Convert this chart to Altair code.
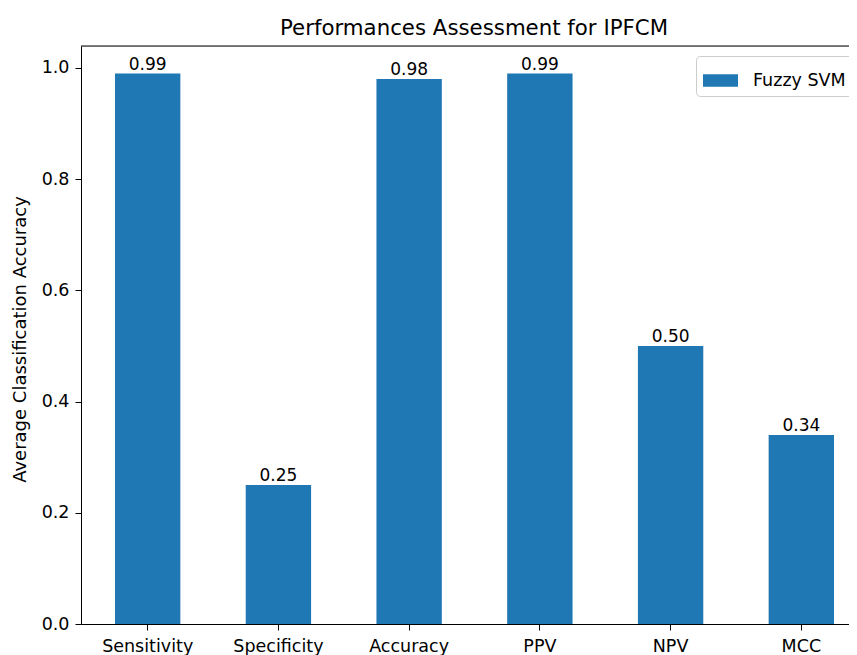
import altair as alt
import pandas as pd

categories = ["Sensitivity", "Specificity", "Accuracy", "PPV", "NPV", "MCC"]
values = [0.99, 0.25, 0.98, 0.99, 0.50, 0.34]
value_labels = ["0.99", "0.25", "0.98", "0.99", "0.50", "0.34"]
series_name = "Fuzzy SVM"
y_ticks = [0.0, 0.2, 0.4, 0.6, 0.8, 1.0]

df = pd.DataFrame({
    "metric": categories,
    "value": values,
    "label": value_labels,
    "series": [series_name] * len(categories),
})

FONT = "DejaVu Sans"
RANGE_W = 787

xscale = alt.Scale(domain=categories, range=[0, RANGE_W], paddingInner=0.5,
                   paddingOuter=0.26, round=False)
yscale = alt.Scale(domain=[0, 1.0395], nice=False, zero=True)

x_enc = alt.X("metric:N", scale=xscale, sort=categories,
              axis=alt.Axis(title=None, labelAngle=0, labelFontSize=17.5, labelFont=FONT,
                            labelColor="black", tickColor="black", domainColor="black",
                            tickSize=6, labelPadding=7, grid=False))
y_enc = alt.Y("value:Q", scale=yscale,
              axis=alt.Axis(title="Average Classification Accuracy", values=y_ticks, format=".1f",
                            labelFontSize=17.5, labelFont=FONT, labelColor="black",
                            tickColor="black", domainColor="black", tickSize=6, labelPadding=6,
                            grid=False, titleFont=FONT, titleFontSize=18, titleFontWeight="normal",
                            titleColor="black", titleX=-61, titleY=293, titleAngle=270,
                            titleBaseline="middle", titleAlign="center"))

base = alt.Chart(df)

bars = base.mark_bar(clip=False).encode(
    x=x_enc,
    y=y_enc,
    color=alt.Color("series:N", scale=alt.Scale(range=["#1f77b4"]),
                    legend=alt.Legend(title=None, orient="none", legendX=615, legendY=10,
                                      symbolType="M-1,-0.36L1,-0.36L1,0.36L-1,0.36Z",
                                      symbolSize=1225, symbolStrokeWidth=0, symbolOpacity=1,
                                      labelFontSize=17.5, labelFont=FONT, labelColor="black",
                                      labelOffset=15, fillColor="white", strokeColor="#cccccc",
                                      padding=7, cornerRadius=4)),
)

text = base.mark_text(baseline="bottom", fontSize=17, font=FONT, color="black", clip=False).encode(
    x=alt.X("metric:N", scale=xscale, sort=categories),
    y=alt.Y("value:Q", scale=yscale),
    text="label:N",
)

spine = alt.Chart(pd.DataFrame({"s": [0]})).mark_rule(color="black", strokeWidth=1, clip=False).encode(
    x=alt.value(0), x2=alt.value(RANGE_W), y=alt.value(0)
)

chart = alt.layer(bars, text, spine).properties(
    width=768,
    height=578,
    autosize=alt.AutoSizeParams(type="none"),
    padding={"left": 73, "top": 38, "right": 0, "bottom": 31},
    title=alt.Title("Performances Assessment for IPFCM", font=FONT, fontSize=21.3,
                    fontWeight="normal", color="black", dx=9, dy=23, offset=12,
                    baseline="alphabetic"),
).configure_view(stroke=None).configure(background="white")

chart.save("out.html", embed_options={"renderer": "svg", "actions": False})
